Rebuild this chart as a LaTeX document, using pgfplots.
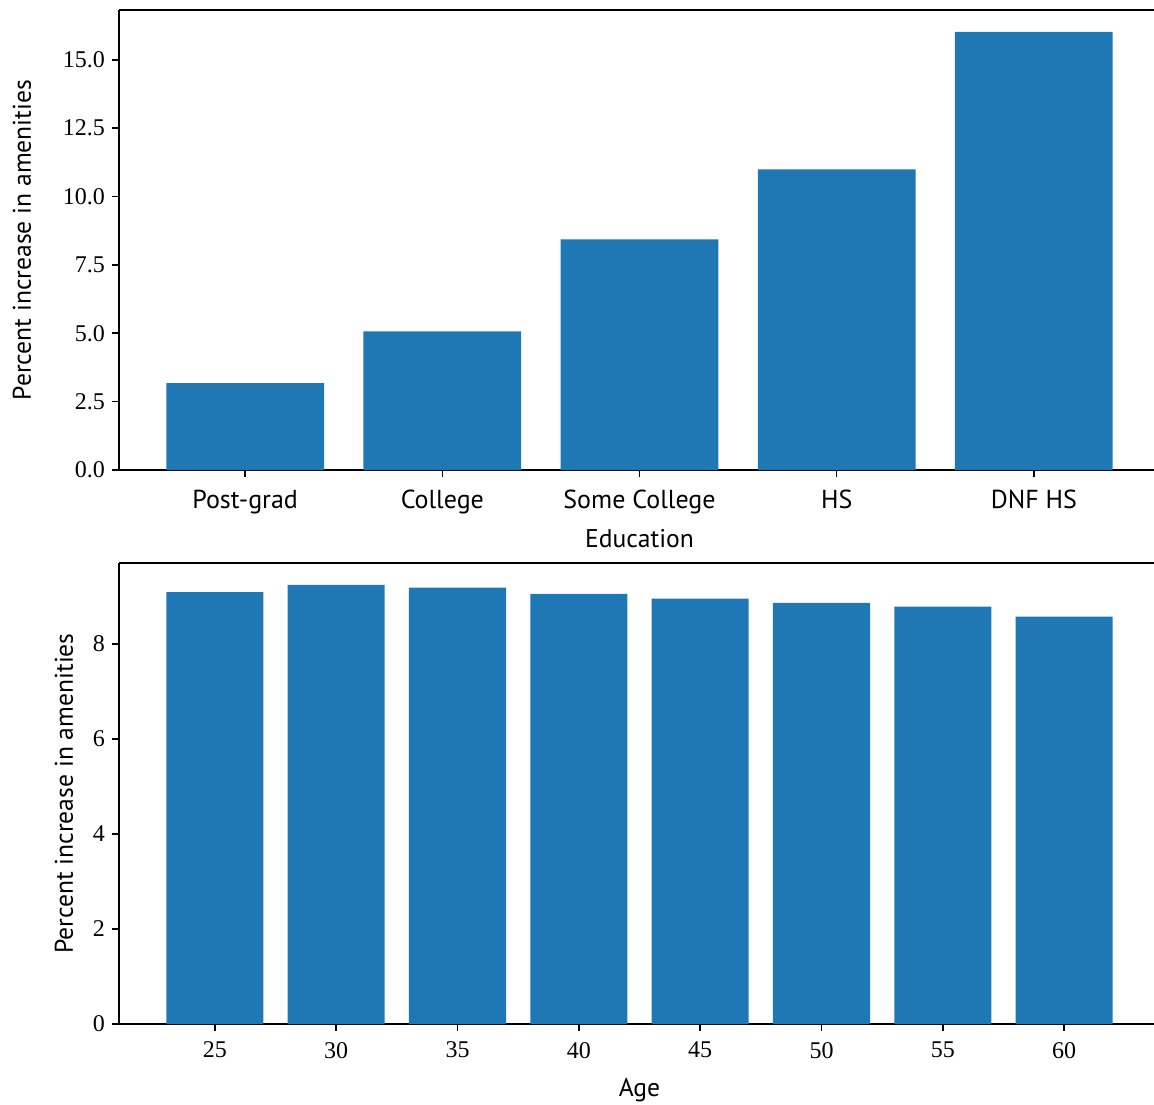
\documentclass[border=0pt]{standalone}
\usepackage{pgfplots}
\pgfplotsset{compat=1.18}
\usepackage{fontspec}
\setmainfont{PT Sans}
\newfontfamily\tickfont{Liberation Serif}
\definecolor{barblue}{HTML}{1F77B4}
\begin{document}
\begin{tikzpicture}[x=1pt,y=1pt]
\pgfplotsset{
  every axis/.append style={
    scale only axis,
    width=520.5pt,
    axis line style={line width=0.9pt},
    every tick/.style={line width=0.8pt,black},
    tick align=outside,
    major tick length=3.5pt,
    /pgf/number format/assume math mode=true,
    tick label style={font=\tickfont\fontsize{12}{14}\selectfont},
    label style={font=\fontsize{12.8}{14}\selectfont},
    ytick pos=left, xtick pos=bottom,
    ymin=0,
    clip=false,
    separate axis lines,
    axis x line*=bottom, axis y line*=left,
    every outer x axis line/.append style={-},
    every outer y axis line/.append style={-},
  },
}
\begin{axis}[
  at={(59.5pt,-235pt)}, anchor=south west,
  height=230pt,
  xmin=-0.64, xmax=4.64,
  ymax=16.82,
  xtick={0,1,2,3,4},
  xticklabels={Post-grad,College,Some College,HS,DNF HS},
  x tick label style={font=\fontsize{13}{14}\selectfont, yshift=-3pt},
  ytick={0,2.5,5,7.5,10,12.5,15},
  yticklabel style={/pgf/number format/.cd,fixed,fixed zerofill,precision=1},
  xlabel={Education},
  ylabel={Percent increase in amenities},
  xlabel style={yshift=-1pt},
  ylabel style={yshift=9pt},
]
\addplot[ybar, bar width=0.8, fill=barblue, draw=none, bar shift=0pt] coordinates {
(0,3.18) (1,5.07) (2,8.43) (3,10.99) (4,16.02)
};
\draw[line width=0.9pt] (axis cs:-0.64,16.82) -- (axis cs:4.64,16.82);
\end{axis}
\begin{axis}[
  at={(59.5pt,-512pt)}, anchor=south west,
  height=230.5pt,
  xmin=21.05, xmax=63.95,
  ymax=9.70,
  xtick={25,30,35,40,45,50,55,60},
  ytick={0,2,4,6,8},
  xlabel={Age},
  ylabel={Percent increase in amenities},
  x tick label style={yshift=-2pt},
  xlabel style={yshift=-3pt},
  ylabel style={yshift=3pt},
]
\addplot[ybar, bar width=4, fill=barblue, draw=none, bar shift=0pt] coordinates {
(25,9.09) (30,9.24) (35,9.18) (40,9.05) (45,8.95) (50,8.86) (55,8.78) (60,8.57)
};
\draw[line width=0.9pt] (axis cs:21.05,9.70) -- (axis cs:63.95,9.70);
\end{axis}
\pgfresetboundingbox
\path[use as bounding box] (0pt,0pt) rectangle (577pt,-552pt);
\end{tikzpicture}
\end{document}
